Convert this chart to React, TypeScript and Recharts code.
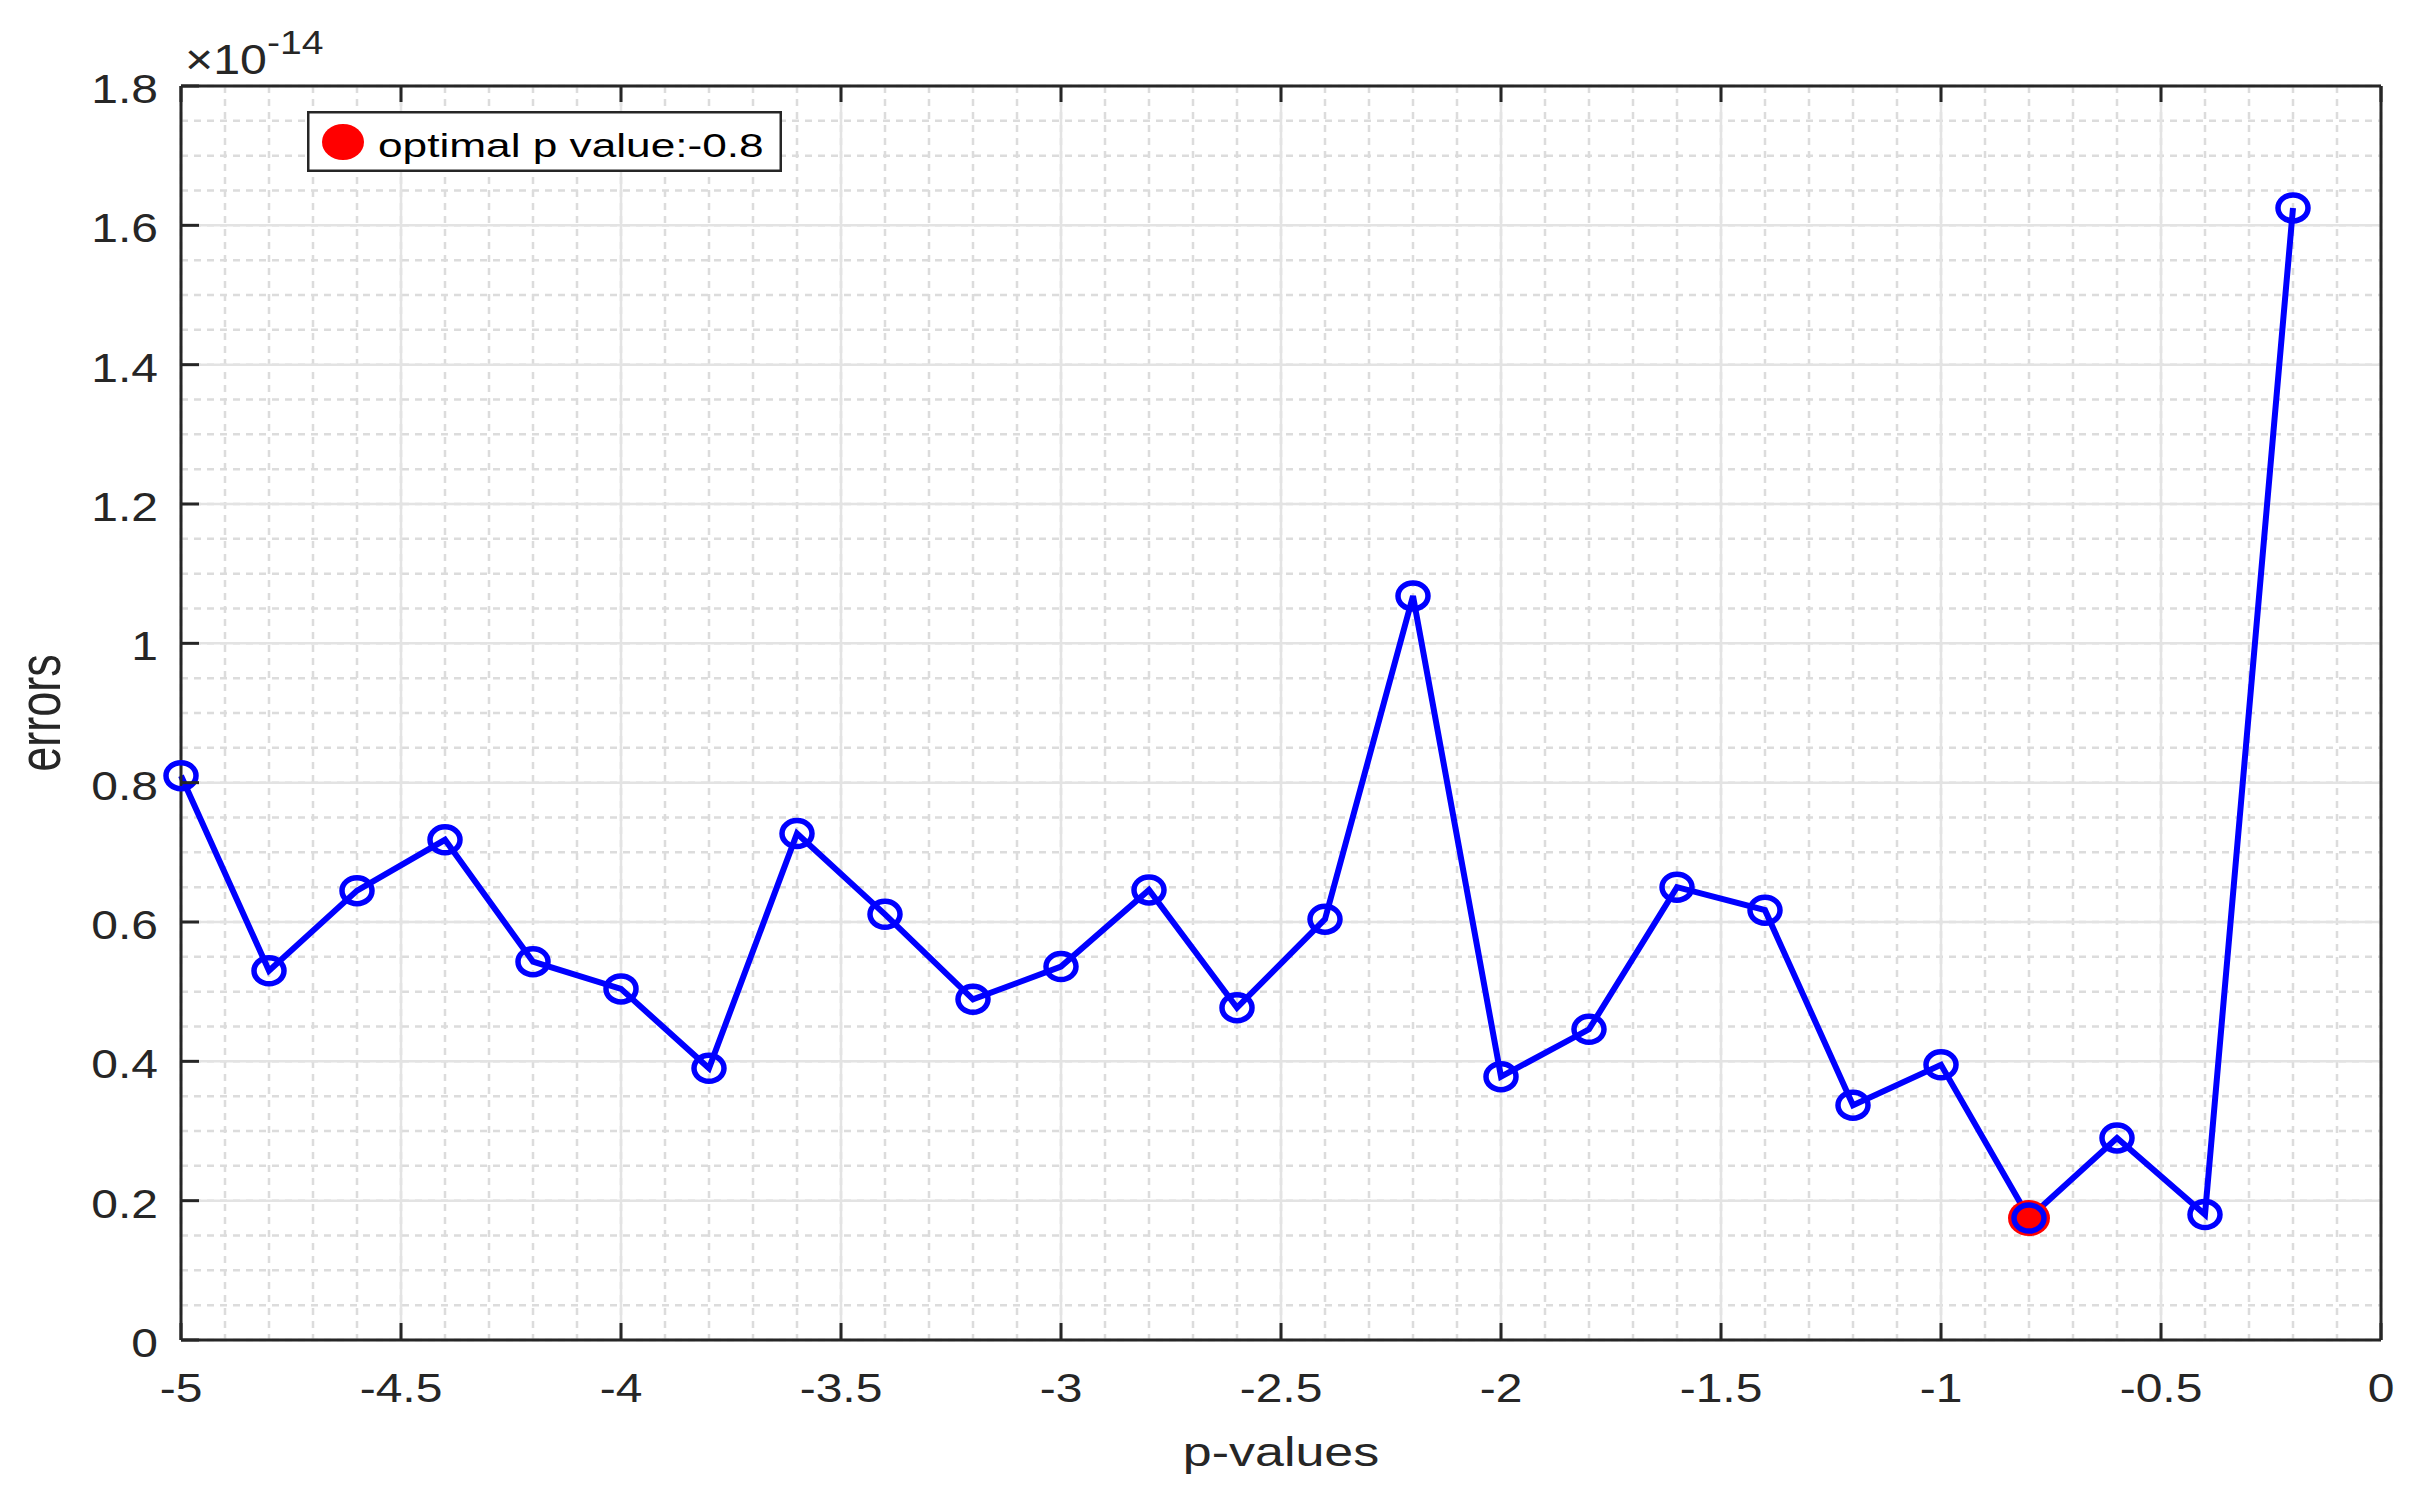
import { ComposedChart, Line, Scatter, XAxis, YAxis, CartesianGrid, Legend, Label } from 'recharts'

const pValues = [-5, -4.8, -4.6, -4.4, -4.2, -4, -3.8, -3.6, -3.4, -3.2, -3, -2.8, -2.6, -2.4, -2.2, -2, -1.8, -1.6, -1.4, -1.2, -1, -0.8, -0.6, -0.4, -0.2]
const errors = [0.81, 0.53, 0.645, 0.718, 0.543, 0.504, 0.39, 0.727, 0.611, 0.489, 0.536, 0.646, 0.477, 0.604, 1.068, 0.378, 0.446, 0.65, 0.617, 0.337, 0.395, 0.175, 0.29, 0.18, 1.625]
const optimalP = -0.8
const optimalName = `optimal p value:${optimalP}`

const xTicks = [-5, -4.5, -4, -3.5, -3, -2.5, -2, -1.5, -1, -0.5, 0]
const xTickLabels = ['-5', '-4.5', '-4', '-3.5', '-3', '-2.5', '-2', '-1.5', '-1', '-0.5', '0']
const yTicks = [0, 0.2, 0.4, 0.6, 0.8, 1, 1.2, 1.4, 1.6, 1.8]
const yTickLabels = ['0', '0.2', '0.4', '0.6', '0.8', '1', '1.2', '1.4', '1.6', '1.8']

// minor grid steps (0.1 on x, 0.05 on y)
const xMinorTicks = Array.from({ length: 51 }, (_, i) => Math.round((-5 + i * 0.1) * 10) / 10)
const yMinorTicks = Array.from({ length: 37 }, (_, i) => Math.round(i * 0.05 * 100) / 100)

const chartData = pValues.map((p, i) => ({ p, err: errors[i] }))
const optimalData = chartData.filter((d) => d.p === optimalP)

const AXIS = '#262626'
const FONT = '"Liberation Sans", Arial, Helvetica, sans-serif'
const BLUE = '#0000ff'
const STRETCH = 1.2

const BottomTick = ({ x, y, payload }: any) => (
  <g>
    <line x1={x} y1={y} x2={x} y2={y - 17} stroke={AXIS} strokeWidth={3} />
    <text
      transform={`translate(${x},${y + 62}) scale(${STRETCH},1)`}
      textAnchor="middle"
      fontSize={40}
      fontFamily={FONT}
      fill={AXIS}
    >
      {xTickLabels[xTicks.indexOf(payload.value)]}
    </text>
  </g>
)

const TopTick = ({ x, y }: any) => <line x1={x} y1={y} x2={x} y2={y + 16} stroke={AXIS} strokeWidth={3} />

const LeftTick = ({ x, y, payload }: any) => (
  <g>
    <line x1={x} y1={y} x2={x + 18} y2={y} stroke={AXIS} strokeWidth={3} />
    <text
      transform={`translate(${x - 23},${y + 17}) scale(${STRETCH},1)`}
      textAnchor="end"
      fontSize={40}
      fontFamily={FONT}
      fill={AXIS}
    >
      {yTickLabels[yTicks.indexOf(payload.value)]}
    </text>
  </g>
)

const RightTick = ({ x, y }: any) => <line x1={x} y1={y} x2={x - 18} y2={y} stroke={AXIS} strokeWidth={3} />

const Ring = ({ cx, cy, index }: any) => (
  <ellipse key={index} cx={cx} cy={cy} rx={15} ry={13} fill="none" stroke={BLUE} strokeWidth={5.5} />
)

const RedDot = ({ cx, cy }: any) => <ellipse cx={cx} cy={cy} rx={21} ry={18} fill="#ff0000" />

const XLabel = ({ viewBox }: any) => (
  <text
    transform={`translate(${viewBox.x + viewBox.width / 2},${viewBox.y + 126}) scale(1.3,1)`}
    textAnchor="middle"
    fontSize={40}
    fontFamily={FONT}
    fill={AXIS}
  >
    p-values
  </text>
)

const YLabel = ({ viewBox }: any) => (
  <text
    transform={`translate(${viewBox.x - 21},${viewBox.y + viewBox.height / 2}) scale(1.3,1) rotate(-90)`}
    textAnchor="middle"
    fontSize={45}
    fontFamily={FONT}
    fill={AXIS}
  >
    errors
  </text>
)

const ExponentLabel = ({ viewBox }: any) => (
  <text
    transform={`translate(${viewBox.x + viewBox.width + 4},${viewBox.y - 12}) scale(1.15,1)`}
    fontSize={42}
    fontFamily={FONT}
    fill={AXIS}
  >
    <tspan>×10</tspan>
    <tspan dy={-20} fontSize={34}>-14</tspan>
  </text>
)

const renderLegend = () => (
  <svg width={475} height={61} style={{ display: 'block' }}>
    <rect x={1.25} y={1.25} width={472.5} height={58.5} fill="#fff" stroke={AXIS} strokeWidth={2.5} />
    <ellipse cx={36} cy={31} rx={21} ry={18} fill="#ff0000" />
    <text transform="translate(71,46) scale(1.3,1)" fontSize={34} fontFamily={FONT} fill="#000">
      {optimalName}
    </text>
  </svg>
)

const App = () => {
  return (
    <div style={{ position: 'absolute', left: 0, top: 0, background: '#fff' }}>
      <ComposedChart width={2422} height={1504} data={chartData} margin={{ top: 85, right: 40, bottom: 64, left: 81 }}>
        <XAxis xAxisId="minor" type="number" dataKey="p" domain={[-5, 0]} ticks={xMinorTicks} interval={0} allowDataOverflow hide />
        <YAxis yAxisId="minor" type="number" dataKey="err" domain={[0, 1.8]} ticks={yMinorTicks} interval={0} allowDataOverflow hide />
        <CartesianGrid xAxisId="minor" yAxisId="minor" stroke="#dcdcdc" strokeWidth={2.5} strokeDasharray="7 6" />
        <CartesianGrid stroke="#e3e3e3" strokeWidth={2.5} />
        <XAxis
          type="number"
          dataKey="p"
          domain={[-5, 0]}
          ticks={xTicks}
          interval={0}
          height={100}
          tickSize={0}
          tickMargin={0}
          tickLine={false}
          axisLine={{ stroke: AXIS, strokeWidth: 3 }}
          tick={(p: any) => <BottomTick {...p} />}
        >
          <Label content={(p: any) => <XLabel {...p} />} />
        </XAxis>
        <XAxis
          xAxisId="top"
          orientation="top"
          type="number"
          dataKey="p"
          domain={[-5, 0]}
          ticks={xTicks}
          interval={0}
          height={1}
          tickSize={0}
          tickMargin={0}
          tickLine={false}
          axisLine={{ stroke: AXIS, strokeWidth: 3 }}
          tick={(p: any) => <TopTick {...p} />}
        />
        <YAxis
          type="number"
          domain={[0, 1.8]}
          ticks={yTicks}
          interval={0}
          width={100}
          tickSize={0}
          tickMargin={0}
          tickLine={false}
          axisLine={{ stroke: AXIS, strokeWidth: 3 }}
          tick={(p: any) => <LeftTick {...p} />}
        >
          <Label content={(p: any) => <YLabel {...p} />} />
          <Label content={(p: any) => <ExponentLabel {...p} />} />
        </YAxis>
        <YAxis
          yAxisId="right"
          orientation="right"
          type="number"
          domain={[0, 1.8]}
          ticks={yTicks}
          interval={0}
          width={1}
          tickSize={0}
          tickMargin={0}
          tickLine={false}
          axisLine={{ stroke: AXIS, strokeWidth: 3 }}
          tick={(p: any) => <RightTick {...p} />}
        />
        <Scatter
          data={optimalData}
          dataKey="err"
          name={optimalName}
          fill="#ff0000"
          shape={(p: any) => <RedDot {...p} />}
          isAnimationActive={false}
        />
        <Line
          type="linear"
          dataKey="err"
          stroke={BLUE}
          strokeWidth={6}
          dot={(p: any) => <Ring {...p} />}
          activeDot={false}
          legendType="none"
          isAnimationActive={false}
        />
        <Legend
          layout="horizontal"
          verticalAlign="middle"
          align="center"
          content={renderLegend}
          wrapperStyle={{ left: 307, top: 111, width: 475, height: 61 }}
        />
      </ComposedChart>
    </div>
  )
}

export default App
